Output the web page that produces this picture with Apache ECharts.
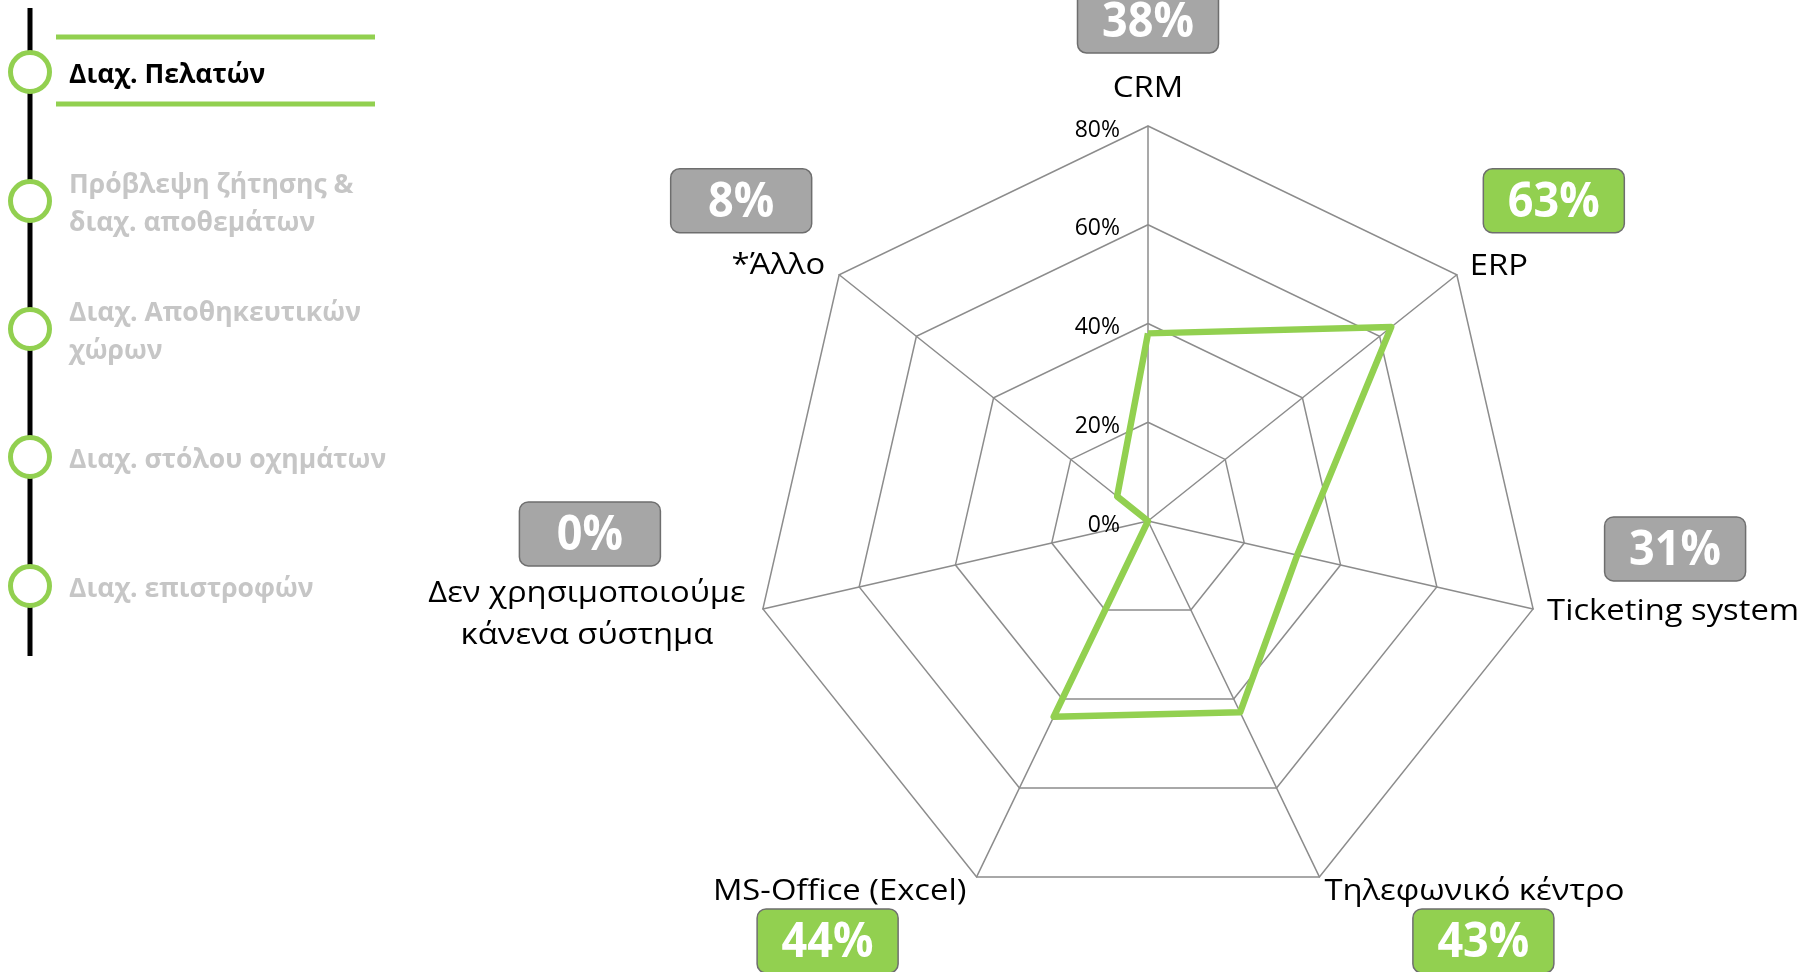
<!DOCTYPE html>
<html>
<head>
<meta charset="utf-8">
<script src="https://cdn.jsdelivr.net/npm/echarts@6/dist/echarts.min.js"></script>
<style>
html,body{margin:0;padding:0;background:#ffffff;}
#chart{width:1809px;height:972px;}
</style>
</head>
<body>
<div id="chart"></div>
<script>
// ---------- DATA (clockwise from the top) ----------
const categories = ['CRM', 'ERP', 'Ticketing system', 'Τηλεφωνικό κέντρο', 'MS-Office (Excel)', 'Δεν χρησιμοποιούμε\nκάνενα σύστημα', '*Άλλο'];
const values = [38, 63, 31, 43, 44, 0, 8];
const highlighted = [false, true, false, true, true, false, false];
const tickValues = [0, 20, 40, 60, 80];
const menuItems = ['Διαχ. Πελατών', 'Πρόβλεψη ζήτησης &\nδιαχ. αποθεμάτων', 'Διαχ. Αποθηκευτικών\nχώρων', 'Διαχ. στόλου οχημάτων', 'Διαχ. επιστροφών'];
const activeMenu = 0;

// ---------- LAYOUT / STYLE ----------
const CX = 1148, CY = 521, R = 395;
const GREEN = '#92d050', GREY_BOX = '#a6a6a6', GRID = '#8c8c8c';
const NAME_FONT = 'Open Sans';
const labelLayout = [
  {name: [0, -37, 'center'],   box: [0, -105]},
  {name: [13, -8, 'left'],     box: [97, -74]},
  {name: [14, 3, 'left'],      box: [142, -60]},
  {name: [155, 15, 'center'],  box: [164, 64]},
  {name: [-137, 15, 'center'], box: [-149, 64]},
  {name: [-176, 6, 'center'],  box: [-173, -75]},
  {name: [-14, -9, 'right'],   box: [-98, -74]}
];
const BOX_W = 141, BOX_H = 64;
const menuY = [72, 201, 329, 457, 586];

// ECharts lays radar indicators out counter-clockwise: reorder
const n = categories.length;
const order = [0].concat(Array.from({length: n - 1}, (_, i) => n - 1 - i));

function vertex(k) {
  const a = k * 2 * Math.PI / n;
  return [CX + R * Math.sin(a), CY - R * Math.cos(a)];
}

const graphics = [];
// left timeline
graphics.push({type: 'line', shape: {x1: 30, y1: 8, x2: 30, y2: 656}, style: {stroke: '#000', lineWidth: 5}, z: 1});
graphics.push({type: 'line', shape: {x1: 56, y1: 37, x2: 375, y2: 37}, style: {stroke: GREEN, lineWidth: 5}});
graphics.push({type: 'line', shape: {x1: 56, y1: 104, x2: 375, y2: 104}, style: {stroke: GREEN, lineWidth: 5}});
menuItems.forEach((t, i) => {
  graphics.push({type: 'circle', shape: {cx: 30, cy: menuY[i], r: 19.5}, style: {fill: '#fff', stroke: GREEN, lineWidth: 5}, z: 2});
  graphics.push({type: 'text', x: 69, y: menuY[i] + 3, style: {
    text: t, fontFamily: NAME_FONT, fontWeight: 'bold', fontSize: 26.5, lineHeight: 38,
    fill: i === activeMenu ? '#000000' : '#c6c6c6',
    align: 'left', textAlign: 'left', verticalAlign: 'middle', textVerticalAlign: 'middle'
  }});
});

// category names and value boxes
categories.forEach((c, k) => {
  const v = vertex(k);
  const L = labelLayout[k];
  graphics.push({type: 'text', x: v[0] + L.name[0], y: v[1] + L.name[1], scaleX: 1.13, style: {
    text: c, fontFamily: NAME_FONT, fontSize: 29, lineHeight: 42, fill: '#000',
    align: L.name[2], textAlign: L.name[2], verticalAlign: 'middle', textVerticalAlign: 'middle'
  }});
  const bx = v[0] + L.box[0], by = v[1] + L.box[1];
  graphics.push({type: 'rect', shape: {x: bx - BOX_W / 2, y: by - BOX_H / 2, width: BOX_W, height: BOX_H, r: 9},
    style: {fill: highlighted[k] ? GREEN : GREY_BOX, stroke: '#6e6e6e', lineWidth: 1.5}});
  graphics.push({type: 'text', x: bx, y: by + 2, scaleY: 1.08, style: {
    text: values[k] + '%', fontFamily: NAME_FONT, fontWeight: 'bold', fontSize: 45, fill: '#ffffff',
    align: 'center', textAlign: 'center', verticalAlign: 'middle', textVerticalAlign: 'middle'
  }});
});

const chart = echarts.init(document.getElementById('chart'), null, {renderer: 'canvas'});
chart.setOption({
  animation: false,
  backgroundColor: '#ffffff',
  radar: {
    center: [CX, CY],
    radius: R,
    startAngle: 90,
    shape: 'polygon',
    splitNumber: tickValues.length - 1,
    indicator: order.map(i => ({name: categories[i], min: tickValues[0], max: tickValues[tickValues.length - 1]})),
    axisName: {show: false},
    axisLine: {lineStyle: {color: GRID, width: 1.5}},
    splitLine: {lineStyle: {color: GRID, width: 1.5}},
    splitArea: {show: false},
    axisTick: {show: false},
    axisLabel: {show: false}
  },
  grid: {left: CX, top: CY - R, width: 1, height: R},
  xAxis: {type: 'value', show: false},
  yAxis: {
    type: 'value', min: tickValues[0], max: tickValues[tickValues.length - 1], interval: tickValues[1] - tickValues[0],
    axisLine: {show: false}, axisTick: {show: false}, splitLine: {show: false},
    axisLabel: {formatter: '{value}%', margin: 28, fontSize: 23, fontFamily: NAME_FONT, color: '#000',
      verticalAlign: 'top', lineHeight: 8}
  },
  series: [{
    type: 'radar',
    silent: true,
    symbol: 'none',
    lineStyle: {color: GREEN, width: 6.5},
    data: [{value: order.map(i => values[i]), name: 'share'}]
  }],
  graphic: graphics
});
</script>
</body>
</html>
